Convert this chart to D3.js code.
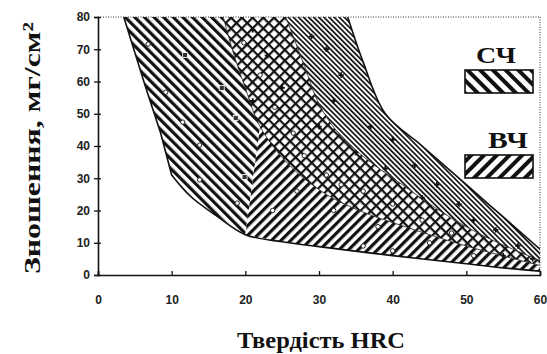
<!DOCTYPE html>
<html>
<head>
<meta charset="utf-8">
<script src="https://cdn.jsdelivr.net/npm/d3@7"></script>
<style>
  body { margin: 0; background: #fff; }
  svg { display: block; }
  .lbl { font-family: "Liberation Sans", Arial, sans-serif; font-weight: bold; font-size: 12px; fill: #222; }
  .title { font-family: "Liberation Serif", "Times New Roman", serif; font-weight: bold; fill: #111; }
</style>
</head>
<body>
<svg width="547" height="354"></svg>
<script>
"use strict";

// axis ticks
const xTicks = [0, 10, 20, 30, 40, 50, 60];
const yTicks = [0, 10, 20, 30, 40, 50, 60, 70, 80];

// boundary curves, [HRC, wear]
// outer lower-left envelope (upper straight part + lower curve)
const edgeLeftTop = [[3.5, 80], [6.5, 58], [8.5, 44], [10, 31]];
const edgeLeftBottom = [[10, 31], [12.5, 24.5], [16, 18.5], [20, 12.5], [25, 10.3], [30, 8.8], [40, 6], [50, 3.5], [55, 2.2], [60, 1.2]];
// lower-left edge of cross-hatched band
const edgeCross1 = [[17, 80], [18.5, 68], [20, 58], [22, 46], [26, 34], [31, 25], [36, 19.5], [41, 15.5], [50, 9], [60, 3]];
// edge between cross-hatched band and dense band
const edgeCross2 = [[25.5, 80], [28, 65], [30, 53], [33, 43], [37, 35], [41, 28.5], [46, 20.5], [52, 12.5], [60, 4.5]];
// outer right envelope
const edgeRight = [[33.9, 80], [36, 66], [39, 50], [44, 40], [50, 28], [55, 18], [60, 8]];

// scattered experimental points
const ptsCircle = [[6.8, 71.6], [9.2, 56.7], [11.5, 47.4], [13.8, 40.3], [13.8, 29.5], [18.9, 22.3],
  [23.7, 20], [19.8, 72], [22, 62], [24, 52], [26.5, 44], [28, 37], [31, 31], [33, 28], [36, 26], [40, 22],
  [44, 17], [48, 13], [27, 26], [32, 20], [38, 15], [45, 10], [36, 9], [40, 7.5], [51, 6]];
const ptsSquare = [[11.8, 68.2], [16.8, 58], [18.7, 48.7], [19.9, 30.4]];
const ptsPlus = [[21, 76], [23, 68], [21, 54], [25, 58], [29, 74], [31, 70], [33, 62], [32, 54], [30, 46],
  [35, 38], [37, 46], [40, 42], [39, 33], [43, 34], [46, 28], [44, 24], [49, 22], [51, 17], [54, 14], [57, 9], [55, 6], [59, 5]];

// legend
const legendNames = ["СЧ", "ВЧ"];

const svg = d3.select("svg");
const x = d3.scaleLinear().domain([0, 60]).range([98, 540]);
const y = d3.scaleLinear().domain([0, 80]).range([275, 17]);

const defs = svg.append("defs");
function hatch(id, angle, period, width) {
  const p = defs.append("pattern").attr("id", id).attr("patternUnits", "userSpaceOnUse")
    .attr("width", period).attr("height", period)
    .attr("patternTransform", `rotate(${angle})`);
  p.append("rect").attr("width", period).attr("height", period).attr("fill", "#fff");
  p.append("rect").attr("x", 0).attr("y", 0).attr("width", width).attr("height", period).attr("fill", "#111");
}
hatch("back", -45, 6.8, 3.2);   // "\\\\" wide
hatch("fwd", 45, 6.8, 3.2);     // "////" wide
hatch("dense", -45, 3.6, 1.7);  // "\\\\" dense
hatch("legBack", -45, 9, 4);
hatch("legFwd", 45, 9, 4);
(function () {
  const s = 7.6;
  const p = defs.append("pattern").attr("id", "cross").attr("patternUnits", "userSpaceOnUse")
    .attr("width", s).attr("height", s).attr("patternTransform", "rotate(45)");
  p.append("rect").attr("width", s).attr("height", s).attr("fill", "#fff");
  p.append("rect").attr("width", 2.2).attr("height", s).attr("fill", "#111");
  p.append("rect").attr("width", s).attr("height", 2.2).attr("fill", "#111");
})();

defs.append("clipPath").attr("id", "plotClip").append("rect")
  .attr("x", x(0)).attr("y", y(80)).attr("width", x(60) - x(0)).attr("height", y(0) - y(80));

const curved = d3.line().x(d => x(d[0])).y(d => y(d[1])).curve(d3.curveCatmullRom.alpha(0.5));
const straight = d3.line().x(d => x(d[0])).y(d => y(d[1]));
const rev = a => a.slice().reverse();
// join several boundary pieces into one closed outline
function zone(pieces) {
  return pieces.map((p, i) => {
    const d = (p.straight ? straight : curved)(p.pts);
    return i === 0 ? d : "L" + d.slice(1);
  }).join("") + "Z";
}

// split the cross-hatch lower edge where the left band meets the bottom band
const splitIdx = edgeCross1.findIndex(d => d[0] === 22);
const c1Top = edgeCross1.slice(0, splitIdx + 1);
const c1Bot = edgeCross1.slice(splitIdx);
const lbA = edgeLeftBottom.slice(0, 4);
const lbB = edgeLeftBottom.slice(3);

const plot = svg.append("g").attr("clip-path", "url(#plotClip)");
plot.append("path").attr("fill", "url(#back)")
  .attr("d", zone([{ pts: edgeLeftTop, straight: true }, { pts: lbA }, { pts: [lbA[3], c1Top[c1Top.length - 1]], straight: true }, { pts: rev(c1Top) }]));
plot.append("path").attr("fill", "url(#fwd)")
  .attr("d", zone([{ pts: lbB }, { pts: rev(c1Bot) }]));
plot.append("path").attr("fill", "url(#cross)")
  .attr("d", zone([{ pts: edgeCross1 }, { pts: rev(edgeCross2) }]));
plot.append("path").attr("fill", "url(#dense)")
  .attr("d", zone([{ pts: edgeCross2 }, { pts: rev(edgeRight) }]));

// envelope outlines
plot.append("path").attr("d", straight(edgeLeftTop) + "L" + curved(edgeLeftBottom).slice(1))
  .attr("fill", "none").attr("stroke", "#111").attr("stroke-width", 1.6);
plot.append("path").attr("d", curved(edgeRight))
  .attr("fill", "none").attr("stroke", "#111").attr("stroke-width", 1.6);
[edgeCross1, edgeCross2].forEach(e => {
  plot.append("path").attr("d", curved(e)).attr("fill", "none").attr("stroke", "#222").attr("stroke-width", 0.8);
});

// points
plot.selectAll(".pc").data(ptsCircle).enter().append("circle")
  .attr("cx", d => x(d[0])).attr("cy", d => y(d[1])).attr("r", 2.2)
  .attr("fill", "#fff").attr("stroke", "#222").attr("stroke-width", 1);
plot.selectAll(".ps").data(ptsSquare).enter().append("rect")
  .attr("x", d => x(d[0]) - 2.5).attr("y", d => y(d[1]) - 2.5).attr("width", 5).attr("height", 5)
  .attr("fill", "#333").attr("stroke", "#fff").attr("stroke-width", 0.8);
plot.selectAll(".pp").data(ptsPlus).enter().append("path")
  .attr("d", d3.symbol(d3.symbolCross, 16))
  .attr("transform", d => `translate(${x(d[0])},${y(d[1])})`)
  .attr("fill", "#111");

// dotted frame
svg.append("line").attr("x1", x(0)).attr("x2", x(60)).attr("y1", y(80)).attr("y2", y(80))
  .attr("stroke", "#333").attr("stroke-dasharray", "1,1.5");
svg.append("line").attr("x1", x(60)).attr("x2", x(60)).attr("y1", y(80)).attr("y2", y(0))
  .attr("stroke", "#333").attr("stroke-dasharray", "1,1.5");

// axes
const gy = svg.append("g").attr("transform", `translate(${x(0)},0)`)
  .call(d3.axisLeft(y).tickValues(yTicks).tickSize(4).tickPadding(4).tickFormat(d3.format("d")));
gy.selectAll(".tick line").attr("x2", -4).attr("x1", 3).attr("stroke", "#111").attr("stroke-width", 1.3);
const gx = svg.append("g").attr("transform", `translate(0,${y(0)})`)
  .call(d3.axisBottom(x).tickValues(xTicks).tickSize(-4).tickPadding(20).tickFormat(d3.format("d")));
gx.selectAll(".tick line").attr("stroke", "#111").attr("stroke-width", 1.3);
[gx, gy].forEach(g => {
  g.select(".domain").attr("stroke", "#111").attr("stroke-width", 1.6);
  g.selectAll("text").attr("class", "lbl").attr("fill", null);
});

// axis titles
svg.append("text").attr("class", "title")
  .attr("transform", `translate(40,${(y(0) + y(80)) / 2 + 2}) rotate(-90)`)
  .attr("text-anchor", "middle").attr("font-size", 24)
  .attr("textLength", 252).attr("lengthAdjust", "spacingAndGlyphs")
  .text("Зношення, мг/см²");
svg.append("text").attr("class", "title")
  .attr("x", 321).attr("y", 348).attr("text-anchor", "middle").attr("font-size", 23)
  .attr("textLength", 168).attr("lengthAdjust", "spacingAndGlyphs")
  .text("Твердість HRC");

// legend
const leg = svg.append("g");
legendNames.forEach((name, i) => {
  const top = i === 0 ? 70 : 155;
  leg.append("text").attr("class", "title").attr("x", i === 0 ? 496 : 508).attr("y", top - 7)
    .attr("text-anchor", "middle").attr("font-size", 23)
    .attr("textLength", 40).attr("lengthAdjust", "spacingAndGlyphs").text(name);
  leg.append("rect").attr("x", 465).attr("y", top).attr("width", 68).attr("height", 23)
    .attr("fill", i === 0 ? "url(#legBack)" : "url(#legFwd)")
    .attr("stroke", "#111").attr("stroke-width", 1.6);
});
</script>
</body>
</html>
